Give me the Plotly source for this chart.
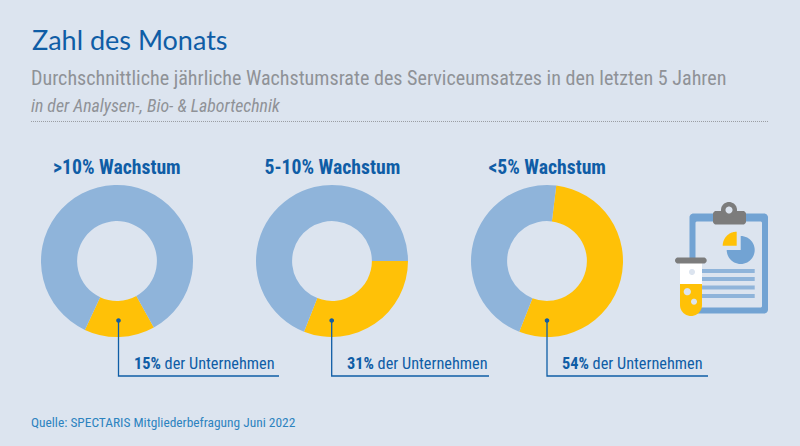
import numpy as np
import plotly.graph_objects as go

W = 800
H = 446

# Daten
kategorien = ['>10% Wachstum', '5-10% Wachstum', '<5% Wachstum']
anteile = [15, 31, 54]
rest = [85, 69, 46]
start_winkel = [151, 90, 7]
mitte_x = [117, 332, 547]
linie_x = [118.5, 331.7, 547]
linie_ende = [279, 489, 708]
mitte_y = 261
radius = 76

BG = '#dce4ef'
BLAU = '#8fb4da'
BLAU2 = '#72a3d3'
GELB = '#ffc107'
DUNKEL = '#0f5da6'
GRAU = '#8f9297'
ICONGRAU = '#7c7c7c'
SCHMAL = 'Roboto'


def px(x):
    return x / W


def py(y):
    return 1 - y / H


def pfad(punkte, zu=True):
    s = 'M ' + ' L '.join(f'{px(a):.5f},{py(b):.5f}' for a, b in punkte)
    return s + (' Z' if zu else '')


def bogen(cx, cy, r, a0, a1, n=40):
    # Winkel im Uhrzeigersinn ab 12 Uhr
    w = np.radians(np.linspace(a0, a1, n))
    return [(cx + r * np.sin(t), cy - r * np.cos(t)) for t in w]


def kasten(x0, y0, x1, y1, r):
    return (bogen(x1 - r, y0 + r, r, 0, 90, 8) + bogen(x1 - r, y1 - r, r, 90, 180, 8)
            + bogen(x0 + r, y1 - r, r, 180, 270, 8) + bogen(x0 + r, y0 + r, r, 270, 360, 8))


shapes = []


def flaeche(punkte, farbe):
    shapes.append(dict(type='path', xref='paper', yref='paper', path=pfad(punkte),
                       fillcolor=farbe, line=dict(width=0), layer='above'))


def linie(punkte, farbe, breite, dash='solid'):
    shapes.append(dict(type='path', xref='paper', yref='paper', path=pfad(punkte, False),
                       line=dict(color=farbe, width=breite, dash=dash), layer='above'))


fig = go.Figure()

for i in range(3):
    fig.add_trace(go.Pie(
        values=[anteile[i], rest[i]],
        labels=['Anteil', 'Rest'],
        sort=False,
        direction='clockwise',
        rotation=start_winkel[i],
        hole=0.525,
        textinfo='none',
        hoverinfo='skip',
        marker=dict(colors=[GELB, BLAU], line=dict(width=0)),
        domain=dict(x=[px(mitte_x[i] - radius), px(mitte_x[i] + radius)],
                    y=[py(mitte_y + radius), py(mitte_y - radius)]),
        showlegend=False,
    ))

# Trennlinie
linie([(31, 121.5), (768, 121.5)], '#9a9da2', 1, '1px,1px')

# Hinweislinien
for i in range(3):
    x = linie_x[i]
    linie([(x, 320), (x, 376), (linie_ende[i], 376)], DUNKEL, 1.3)
    flaeche(bogen(x, 320.5, 2.3, 0, 360, 16), DUNKEL)

# Icon Klemmbrett
flaeche(kasten(689.5, 213.5, 768, 313.5, 4), BLAU2)
flaeche(kasten(695.5, 221.5, 762, 307.5, 1.5), BG)
for y0 in [269, 277, 285.5, 294]:
    flaeche([(702, y0), (754.7, y0), (754.7, y0 + 4), (702, y0 + 4)], BLAU)
flaeche(kasten(713, 211, 746, 224.5, 3), ICONGRAU)
flaeche(bogen(729, 210, 8, 0, 360), ICONGRAU)
flaeche(bogen(729, 210, 3.5, 0, 360), BG)
flaeche(bogen(740.7, 250, 14, 0, 270) + [(740.7, 250)], BLAU2)
flaeche(bogen(736.7, 245.7, 14, 270, 360) + [(736.7, 245.7)], GELB)

# Icon Reagenzglas
flaeche([(680, 263), (702, 263), (702, 285), (680, 285)], '#ffffff')
flaeche([(680, 284), (702, 284)] + bogen(691, 305, 11, 90, 270), GELB)
flaeche(kasten(675, 257.5, 706.7, 263.5, 3), ICONGRAU)
flaeche(bogen(692, 272, 3, 0, 360), BG)
flaeche(bogen(687.3, 291.7, 3.6, 0, 360), BG)
flaeche(bogen(694, 301.7, 3, 0, 360), BG)

texte = []


def text(x, y, s, farbe, groesse, familie=SCHMAL, anker='left'):
    texte.append(dict(x=px(x), y=py(y), xref='paper', yref='paper', text=s, showarrow=False,
                      xanchor=anker, yanchor='middle', align=anker,
                      font=dict(color=farbe, size=groesse, family=familie)))


text(30, 39, 'Zahl des Monats', DUNKEL, 27, 'Lato')
text(28.5, 78, 'Durchschnittliche jährliche Wachstumsrate des Serviceumsatzes in den letzten 5 Jahren',
     GRAU, 20.1)
text(29, 105, '<i>in der Analysen-, Bio- &amp; Labortechnik</i>', GRAU, 17.8)
for i in range(3):
    text(mitte_x[i], 167, f'<b>{kategorien[i].replace("<", "&lt;")}</b>',
         DUNKEL, 19.7, anker='center')
    text(linie_x[i] + 13, 363, f'<b>{anteile[i]}%</b> der Unternehmen', DUNKEL, 16.3)
text(29, 422, 'Quelle: SPECTARIS Mitgliederbefragung Juni 2022', '#2d83bf', 13.4)

fig.update_layout(
    width=W,
    height=H,
    margin=dict(l=0, r=0, t=0, b=0),
    paper_bgcolor=BG,
    plot_bgcolor=BG,
    shapes=shapes,
    annotations=texte,
)

# Seitenrand weg, schmale Schrift wenn vorhanden
seite = ("document.body.style.margin='0';"
         "var st=document.createElement('style');"
         "st.textContent='.annotation-text{font-stretch:75%}';"
         "document.head.appendChild(st);")

fig.write_html("out.html", config=dict(displayModeBar=False), post_script=seite)
